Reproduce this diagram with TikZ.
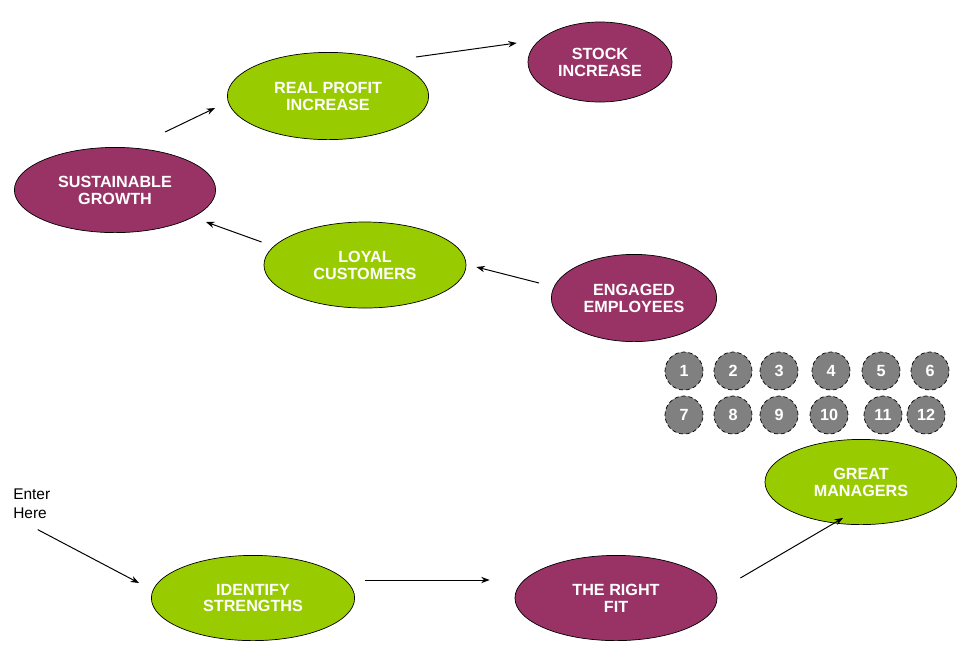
\documentclass[tikz,border=0pt]{standalone}
\usepackage{fontspec}
\setmainfont{Liberation Sans}
\usetikzlibrary{shapes.geometric,arrows.meta}
\definecolor{leaf}{HTML}{99CC00}
\definecolor{plum}{HTML}{993366}
\definecolor{pebble}{HTML}{808080}
\begin{document}
\begin{tikzpicture}[x=0.025cm, y=-0.025cm, >={Stealth[length=6pt,width=4.5pt]},
    goal/.style={ellipse, draw=black, line width=0.5pt, inner sep=0pt, text=white,
      align=center, font=\fontsize{11.5}{12}\selectfont\bfseries},
    leafgoal/.style={goal, fill=leaf},
    plumgoal/.style={goal, fill=plum},
    badge/.style={circle, fill=pebble, draw=black, densely dashed, line width=0.5pt,
      minimum size=0.95cm, inner sep=0pt, text=white, font=\fontsize{11.5}{12}\selectfont\bfseries},
    arr/.style={->, line width=0.7pt}]
    \useasboundingbox (0,0) rectangle (957,646);

    % Upper chain
    \node[plumgoal, minimum width=3.6cm, minimum height=2cm] (stock) at (600,62) {STOCK\\INCREASE};
    \node[leafgoal, minimum width=5.03cm, minimum height=2.18cm] (real) at (328,96) {REAL PROFIT\\INCREASE};
    \node[plumgoal, minimum width=5.03cm, minimum height=2.13cm] (sust) at (115,190) {SUSTAINABLE\\GROWTH};
    \node[leafgoal, minimum width=5.05cm, minimum height=2.15cm] (loyal) at (365,265) {LOYAL\\CUSTOMERS};
    \node[plumgoal, minimum width=4.13cm, minimum height=2.18cm] (engaged) at (634,298) {ENGAGED\\EMPLOYEES};

    % Twelve questions
    \foreach \n/\x/\y in {1/684/371, 2/733/371, 3/779/371, 4/831/371, 5/881/371, 6/930/371,
        7/684/415, 8/733/415, 9/779/415, 10/829/415, 11/883/415, 12/926/415}
      \node[badge] (b\n) at (\x,\y) {\n};

    % Lower chain
    \node[leafgoal, minimum width=4.8cm, minimum height=2.13cm] (great) at (861,482) {GREAT\\MANAGERS};
    \node[leafgoal, minimum width=5.08cm, minimum height=2.13cm] (ident) at (253,598) {IDENTIFY\\STRENGTHS};
    \node[plumgoal, minimum width=5.05cm, minimum height=2.13cm] (fit) at (616,598) {THE RIGHT\\FIT};
    \node[anchor=north west, align=left, inner sep=0pt, font=\fontsize{11}{13}\selectfont] (enter) at (13,489) {Enter\\Here};

    % Arrows
    \draw[arr] ([shift={(6,11)}]enter.south) -- ([shift={(-12,-15)}]ident.west);
    \draw[arr] ([shift={(10,-18)}]ident.east) -- ([shift={(-25,-18)}]fit.west);
    \draw[arr] ([shift={(23,-20)}]fit.east) -- ([shift={(-18,-7)}]great.south);
    \draw[arr] ([shift={(-12,-15)}]engaged.west) -- ([shift={(10,2)}]loyal.east);
    \draw[arr] ([shift={(-2,-23)}]loyal.west) -- ([shift={(-10,32)}]sust.east);
    \draw[arr] ([shift={(50,-15)}]sust.north) -- ([shift={(-12,12)}]real.west);
    \draw[arr] ([shift={(-13,-39)}]real.east) -- ([shift={(-11,-19)}]stock.west);

\end{tikzpicture}
\end{document}
